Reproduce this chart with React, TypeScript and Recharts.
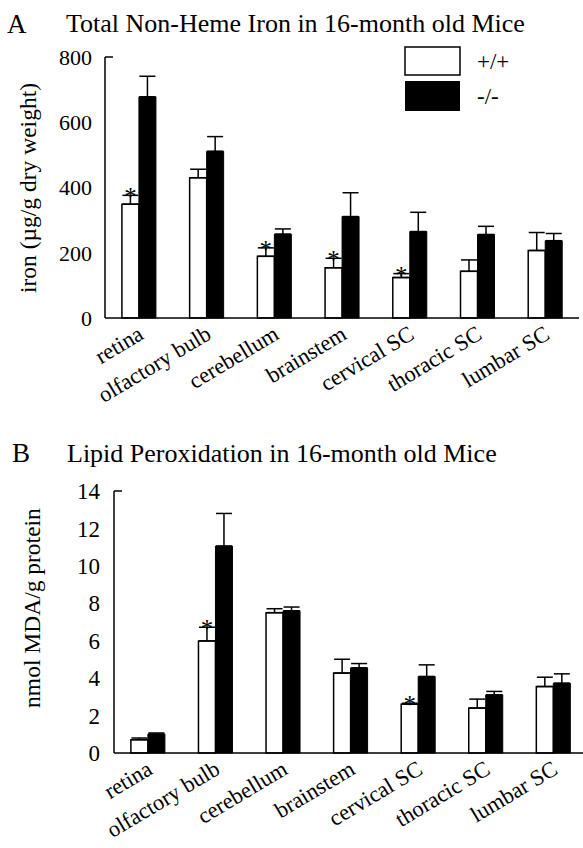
import { BarChart, Bar, XAxis, YAxis, ErrorBar, LabelList } from 'recharts'

const FONT = '"Liberation Serif", "Times New Roman", Times, serif'

const regions = ['retina', 'olfactory bulb', 'cerebellum', 'brainstem', 'cervical SC', 'thoracic SC', 'lumbar SC']

// panel A: non-heme iron (µg/g dry weight)
const ironWT = [349, 430, 189, 154, 124, 143, 207]
const ironWTErr = [27, 26, 26, 29, 12, 35, 55]
const ironKO = [678, 511, 257, 311, 265, 256, 237]
const ironKOErr = [63, 45, 16, 73, 59, 25, 22]
const ironStar = [true, false, true, true, true, false, false]
const ironTicks = [0, 200, 400, 600, 800]

// panel B: lipid peroxidation (nmol MDA/g protein)
const mdaWT = [0.71, 5.99, 7.5, 4.27, 2.61, 2.4, 3.55]
const mdaWTErr = [0.09, 0.73, 0.21, 0.74, 0.05, 0.48, 0.5]
const mdaKO = [1.01, 11.06, 7.6, 4.55, 4.09, 3.11, 3.73]
const mdaKOErr = [0.06, 1.74, 0.2, 0.23, 0.62, 0.18, 0.5]
const mdaStar = [false, true, false, false, true, false, false]
const mdaTicks = [0, 2, 4, 6, 8, 10, 12, 14]

const ironData = regions.map((name, i) => ({
  name,
  wt: ironWT[i],
  wtErr: [0, ironWTErr[i]],
  ko: ironKO[i],
  koErr: [0, ironKOErr[i]],
}))

const mdaData = regions.map((name, i) => ({
  name,
  wt: mdaWT[i],
  wtErr: [0, mdaWTErr[i]],
  ko: mdaKO[i],
  koErr: [0, mdaKOErr[i]],
}))

const txt = { fontFamily: FONT, fill: '#000' }

function XTick({ x, y, payload, fs }: any) {
  const tx = x + 6
  const ty = y + 12
  return (
    <text x={tx} y={ty} transform={`rotate(-31 ${tx} ${ty})`} textAnchor="end" fontSize={fs} style={txt}>
      {payload.value}
    </text>
  )
}

// y tick label; the top value also gets the little cap that points into the plot
function YTick({ x, y, payload, fs, max, off }: any) {
  const axisX = x + off
  return (
    <g>
      <text x={x} y={y} dy="0.355em" textAnchor="end" fontSize={fs} style={txt}>
        {payload.value}
      </text>
      {payload.value === max && <line x1={axisX} y1={y} x2={axisX + 8} y2={y} stroke="#000" strokeWidth={1.5} />}
    </g>
  )
}

// asterisk sits on top of the error bar cap
function starLabel(stars: boolean[], errs: number[]) {
  return (p: any) => {
    const { x, y, width, height, value, index } = p
    if (!stars[index] || !value) return null
    const top = y - errs[index] * (height / value)
    return (
      <text x={x + width / 2} y={top + 10} textAnchor="middle" fontSize={25} style={txt}>
        *
      </text>
    )
  }
}

const axisProps = { stroke: '#000', strokeWidth: 1.5 }

export default function App() {
  return (
    <div
      style={{
        position: 'absolute',
        left: 0,
        top: 0,
        width: 583,
        height: 848,
        overflow: 'hidden',
        background: '#fff',
        fontFamily: FONT,
      }}
    >
      <div style={{ position: 'absolute', left: 0, top: 0 }}>
        <BarChart
          width={583}
          height={420}
          data={ironData}
          margin={{ top: 57, right: 4, left: 0, bottom: 0 }}
          barCategoryGap="25%"
          barGap={0}
        >
          <text x={7} y={33} fontSize={27} style={txt}>A</text>
          <text x={66} y={32} fontSize={26} style={txt}>Total Non-Heme Iron in 16-month old Mice</text>
          <text transform="translate(36 188) rotate(-90)" textAnchor="middle" fontSize={23.5} style={txt}>
            iron (µg/g dry weight)
          </text>
          {/* legend */}
          <rect x={405} y={47} width={55} height={28} fill="#fff" stroke="#000" strokeWidth={1.5} />
          <rect x={405} y={81} width={55} height={30} fill="#000" />
          <text x={477} y={69} fontSize={23} style={txt}>+/+</text>
          <text x={477} y={104} fontSize={23} style={txt}>-/-</text>
          <XAxis
            dataKey="name"
            height={102}
            axisLine={axisProps}
            tickLine={false}
            interval={0}
            tick={<XTick fs={22.5} />}
          />
          <YAxis
            width={105}
            domain={[0, 800]}
            ticks={ironTicks}
            axisLine={axisProps}
            tickLine={false}
            tickMargin={7}
            tick={<YTick fs={22} max={800} off={13} />}
          />
          <Bar dataKey="wt" name="+/+" fill="#fff" stroke="#000" strokeWidth={1.5} isAnimationActive={false}>
            <ErrorBar dataKey="wtErr" direction="y" width={8} stroke="#000" strokeWidth={1.5} />
            <LabelList dataKey="wt" content={starLabel(ironStar, ironWTErr)} />
          </Bar>
          <Bar dataKey="ko" name="-/-" fill="#000" stroke="#000" strokeWidth={1} isAnimationActive={false}>
            <ErrorBar dataKey="koErr" direction="y" width={8} stroke="#000" strokeWidth={1.5} />
          </Bar>
        </BarChart>
      </div>
      <div style={{ position: 'absolute', left: 0, top: 420 }}>
        <BarChart
          width={590}
          height={428}
          data={mdaData}
          margin={{ top: 71, right: 3, left: 0, bottom: 0 }}
          barCategoryGap="25%"
          barGap={0}
        >
          <text x={12} y={42} fontSize={27} style={txt}>B</text>
          <text x={67} y={42} fontSize={26} style={txt}>Lipid Peroxidation in 16-month old Mice</text>
          <text transform="translate(40 188) rotate(-90)" textAnchor="middle" fontSize={23.5} style={txt}>
            nmol MDA/g protein
          </text>
          <XAxis
            dataKey="name"
            height={95}
            axisLine={axisProps}
            tickLine={false}
            interval={0}
            tick={<XTick fs={22.5} />}
          />
          <YAxis
            width={114}
            domain={[0, 14]}
            ticks={mdaTicks}
            axisLine={axisProps}
            tickLine={false}
            tickMargin={8}
            tick={<YTick fs={23} max={14} off={14} />}
          />
          <Bar dataKey="wt" name="+/+" fill="#fff" stroke="#000" strokeWidth={1.5} isAnimationActive={false}>
            <ErrorBar dataKey="wtErr" direction="y" width={8} stroke="#000" strokeWidth={1.5} />
            <LabelList dataKey="wt" content={starLabel(mdaStar, mdaWTErr)} />
          </Bar>
          <Bar dataKey="ko" name="-/-" fill="#000" stroke="#000" strokeWidth={1} isAnimationActive={false}>
            <ErrorBar dataKey="koErr" direction="y" width={8} stroke="#000" strokeWidth={1.5} />
          </Bar>
        </BarChart>
      </div>
    </div>
  )
}
